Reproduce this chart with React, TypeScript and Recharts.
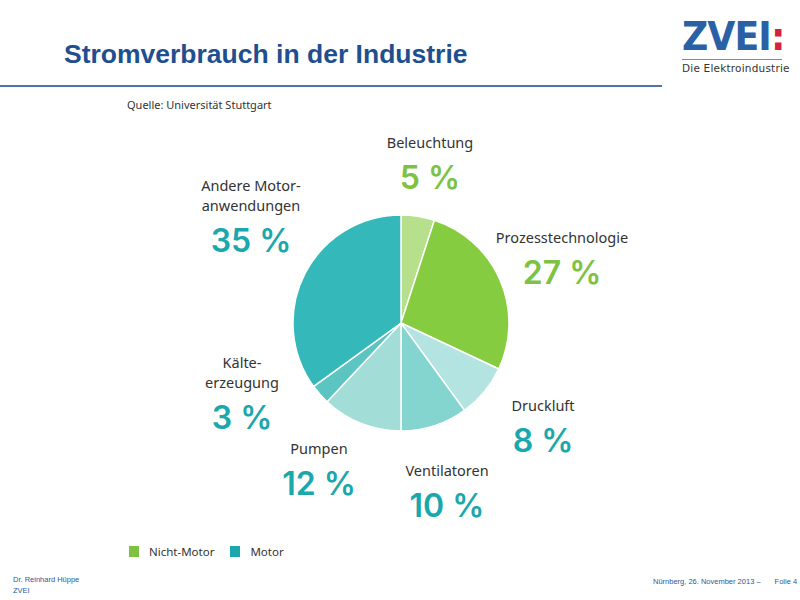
import React from 'react';
import { PieChart, Pie, Cell } from 'recharts';

// Anteile am Stromverbrauch der Industrie, im Uhrzeigersinn ab 12 Uhr
const categories = ['Beleuchtung', 'Prozesstechnologie', 'Druckluft', 'Ventilatoren', 'Pumpen', 'Kälte-\nerzeugung', 'Andere Motor-\nanwendungen'];
const shares = [5, 27, 8, 10, 12, 3, 35];
const groups = ['Nicht-Motor', 'Nicht-Motor', 'Motor', 'Motor', 'Motor', 'Motor', 'Motor'];

const sliceColors = ['#b6e08c', '#86cc40', '#b3e4e1', '#84d4cf', '#a2ddd8', '#5cc5c1', '#34b8b9'];
const groupColors: Record<string, string> = { 'Nicht-Motor': '#7dc242', Motor: '#1ca7ad' };

// Label block centre relative to pie centre
const labelOffsets: [number, number][] = [
  [29, -163],
  [161, -68],
  [142, 100],
  [46, 165],
  [-82, 143],
  [-159, 67],
  [-150, -110],
];

const data = categories.map((name, i) => ({ name, value: shares[i], group: groups[i] }));

const TEXT_FONT = '"Noto Sans", sans-serif';

const renderLabel = (props: any) => {
  const { cx, cy, index } = props;
  const d = data[index];
  const [dx, dy] = labelOffsets[index];
  const lines = d.name.split('\n');
  const x = cx + dx;
  const lineH = 20;
  const pctGap = 33;
  const blockH = (lines.length - 1) * lineH + pctGap;
  const top = cy + dy - blockH / 2;
  return (
    <g key={`lbl-${index}`}>
      {lines.map((l: string, j: number) => (
        <text key={j} x={x} y={top + j * lineH + 4} textAnchor="middle" fontFamily={TEXT_FONT} fontSize={14.5} fill="#333">
          {l}
        </text>
      ))}
      <text
        x={x}
        y={top + (lines.length - 1) * lineH + pctGap + 12}
        textAnchor="middle"
        fontFamily='"Inter", sans-serif'
        fontSize={32}
        fontWeight={600}
        fill={groupColors[d.group]}
      >
        {`${d.value} %`}
      </text>
    </g>
  );
};

export default function App() {
  return (
    <div style={{ position: 'absolute', left: 0, top: 0, width: 800, height: 600, background: '#fff', overflow: 'hidden' }}>
      <div style={{ position: 'absolute', left: 64, top: 39, fontFamily: '"Liberation Sans", Arial, sans-serif', fontWeight: 700, fontSize: 26.5, color: '#1f4f8e' }}>
        Stromverbrauch in der Industrie
      </div>
      <div style={{ position: 'absolute', left: 0, top: 85, width: 662, height: 2, background: '#4e76a8' }} />

      <div style={{ position: 'absolute', left: 682, top: 15, width: 112 }}>
        <div style={{ fontFamily: '"DejaVu Sans", sans-serif', fontWeight: 700, fontSize: 39, color: '#2a61a6', letterSpacing: -1, lineHeight: '44px', transform: 'scaleX(0.93)', transformOrigin: 'left' }}>
          ZVEI<span style={{ color: '#d4213d' }}>:</span>
        </div>
        <div style={{ width: 100, height: 1, background: '#8a8a8a', marginTop: 0 }} />
        <div style={{ fontFamily: '"DejaVu Sans", sans-serif', fontSize: 10.5, color: '#333', marginTop: 2, letterSpacing: 0.2 }}>
          Die Elektroindustrie
        </div>
      </div>

      <div style={{ position: 'absolute', left: 127, top: 97, fontFamily: TEXT_FONT, fontSize: 11, color: '#333' }}>
        Quelle: Universität Stuttgart
      </div>

      <div style={{ position: 'absolute', left: 0, top: 0 }}>
        <PieChart width={800} height={600} margin={{ top: 0, right: 0, bottom: 0, left: 0 }}>
          <Pie
            data={data}
            dataKey="value"
            nameKey="name"
            cx={401}
            cy={323}
            outerRadius={108}
            startAngle={90}
            endAngle={-270}
            stroke="#fff"
            strokeWidth={1.5}
            labelLine={false}
            label={renderLabel}
            isAnimationActive={false}
          >
            {data.map((d, i) => (
              <Cell key={d.name} fill={sliceColors[i]} />
            ))}
          </Pie>
        </PieChart>
      </div>

      <div style={{ position: 'absolute', left: 129, top: 544, display: 'flex', alignItems: 'center', fontFamily: TEXT_FONT, fontSize: 11.5, color: '#333' }}>
        {Object.keys(groupColors).map((g) => (
          <div key={g} style={{ display: 'flex', alignItems: 'center', marginRight: 16 }}>
            <div style={{ width: 10, height: 11, background: groupColors[g], marginRight: 10 }} />
            {g}
          </div>
        ))}
      </div>

      <div style={{ position: 'absolute', left: 13, top: 574, fontFamily: '"Liberation Sans", Arial, sans-serif', fontSize: 7.5, color: '#2a5a9a', lineHeight: '11px' }}>
        Dr. Reinhard Hüppe<br />ZVEI
      </div>
      <div style={{ position: 'absolute', left: 653, top: 577, fontFamily: '"Liberation Sans", Arial, sans-serif', fontSize: 7.5, color: '#2a5a9a' }}>
        Nürnberg, 26. November 2013 –<span style={{ marginLeft: 14 }}>Folie 4</span>
      </div>
    </div>
  );
}
